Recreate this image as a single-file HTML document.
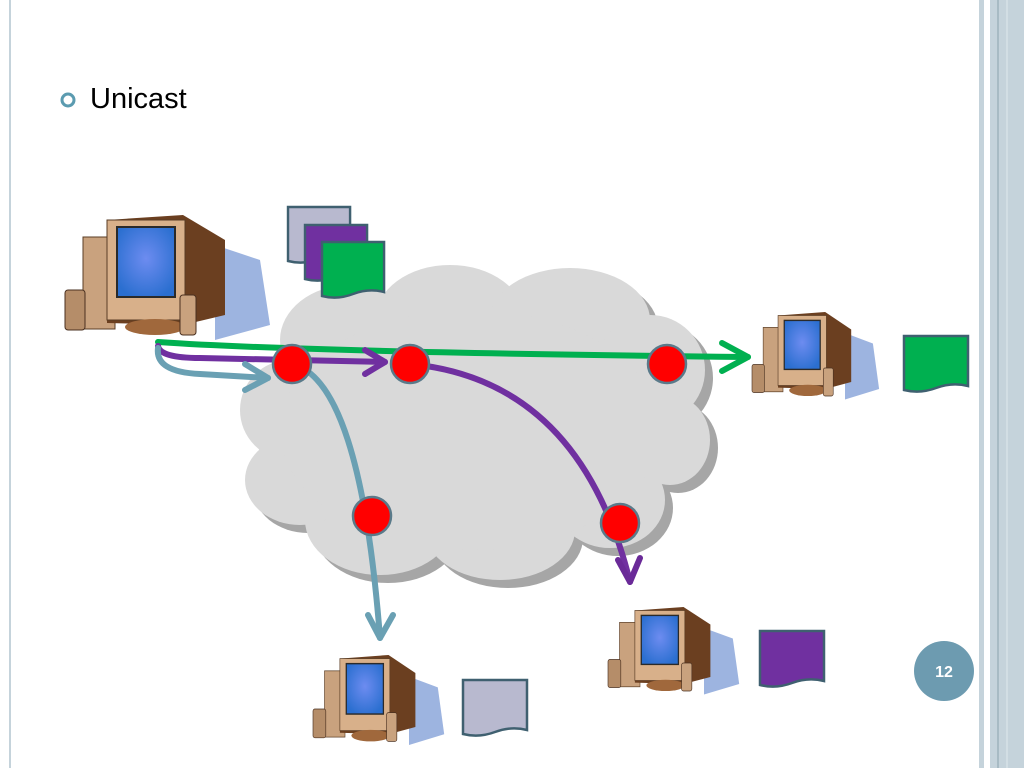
<!DOCTYPE html>
<html><head><style>
body{margin:0;width:1024px;height:768px;background:#fff;overflow:hidden;font-family:"Liberation Sans",sans-serif}
</style></head><body>
<svg width="1024" height="768" viewBox="0 0 1024 768" xmlns="http://www.w3.org/2000/svg">
<defs>
<radialGradient id="scr" cx="0.5" cy="0.45" r="0.6"><stop offset="0" stop-color="#6d8cf0"/><stop offset="1" stop-color="#2b6fd0"/></radialGradient>
<g id="pc">
  <path d="M150 30 L195 45 L205 110 L150 125 Z" fill="#9db4e0"/>
  <rect x="18" y="22" width="32" height="92" fill="#c9a27e" stroke="#5a3d25"/>
  <rect x="0" y="75" width="20" height="40" rx="3" fill="#b58d69" stroke="#4a3020"/>
  <path d="M42 5 L118 0 L160 25 L160 100 L118 110 L42 108 Z" fill="#6b3f20"/>
  <rect x="42" y="5" width="78" height="100" fill="#d8b08a" stroke="#5a3d25"/>
  <rect x="52" y="12" width="58" height="70" fill="url(#scr)" stroke="#2a2a2a" stroke-width="2"/>
  <ellipse cx="90" cy="112" rx="30" ry="8" fill="#a0683c"/>
  <rect x="115" y="80" width="16" height="40" rx="3" fill="#c9a27e" stroke="#4a3020"/>
</g>
<g id="doc">
  <path d="M0 0 H64 V50 Q48 46 32 52 Q16 58 0 54 Z" stroke="#3f6070" stroke-width="2.5"/>
</g>
</defs>
<line x1="10" y1="0" x2="10" y2="768" stroke="#c5d3db" stroke-width="2"/>
<rect x="979" y="0" width="5" height="768" fill="#c5d3db"/>
<rect x="990" y="0" width="34" height="768" fill="#c5d3db"/>
<line x1="998" y1="0" x2="998" y2="768" stroke="#8aa3ae" stroke-width="1"/>
<line x1="1007" y1="0" x2="1007" y2="768" stroke="#dfe8ec" stroke-width="1"/>

<circle cx="68" cy="100" r="6" fill="none" stroke="#5b9bb0" stroke-width="3"/>
<text x="90" y="108" font-size="29" fill="#000">Unicast</text>

<g fill="#a6a6a6" transform="translate(8,8)">
  <ellipse cx="350" cy="340" rx="70" ry="55"/><ellipse cx="450" cy="320" rx="75" ry="55"/><ellipse cx="570" cy="320" rx="80" ry="52"/>
  <ellipse cx="650" cy="370" rx="55" ry="55"/><ellipse cx="670" cy="440" rx="40" ry="45"/><ellipse cx="610" cy="500" rx="55" ry="48"/>
  <ellipse cx="500" cy="530" rx="75" ry="50"/><ellipse cx="380" cy="520" rx="75" ry="55"/><ellipse cx="300" cy="480" rx="55" ry="45"/>
  <ellipse cx="290" cy="410" rx="50" ry="50"/><ellipse cx="470" cy="430" rx="190" ry="120"/>
</g>
<g fill="#d9d9d9">
  <ellipse cx="350" cy="340" rx="70" ry="55"/><ellipse cx="450" cy="320" rx="75" ry="55"/><ellipse cx="570" cy="320" rx="80" ry="52"/>
  <ellipse cx="650" cy="370" rx="55" ry="55"/><ellipse cx="670" cy="440" rx="40" ry="45"/><ellipse cx="610" cy="500" rx="55" ry="48"/>
  <ellipse cx="500" cy="530" rx="75" ry="50"/><ellipse cx="380" cy="520" rx="75" ry="55"/><ellipse cx="300" cy="480" rx="55" ry="45"/>
  <ellipse cx="290" cy="410" rx="50" ry="50"/><ellipse cx="470" cy="430" rx="190" ry="120"/>
</g>

<use href="#pc" transform="translate(65,215)"/>
<use href="#pc" transform="translate(752,312) scale(0.62,0.7)"/>
<use href="#pc" transform="translate(313,655) scale(0.64,0.72)"/>
<use href="#pc" transform="translate(608,607) scale(0.64,0.7)"/>

<use href="#doc" transform="translate(288,207) scale(0.97,1)" fill="#b8b9cf"/>
<use href="#doc" transform="translate(305,225) scale(0.97,1)" fill="#7030a0"/>
<use href="#doc" transform="translate(322,242) scale(0.97,1)" fill="#00b050"/>
<use href="#doc" transform="translate(904,336) scale(1,1)" fill="#00b050"/>
<use href="#doc" transform="translate(760,631) scale(1,1)" fill="#7030a0"/>
<use href="#doc" transform="translate(463,680) scale(1,1)" fill="#b8b9cf"/>

<g fill="none" stroke-width="6" stroke-linecap="round" stroke-linejoin="round">
  <path d="M158 342 Q300 352 748 357" stroke="#00b050"/>
  <path d="M722 343 L748 357 L722 371" stroke="#00b050"/>
  <path d="M158 346 Q160 358 200 358 L385 362" stroke="#7030a0"/>
  <path d="M365 350 L385 362 L365 374" stroke="#7030a0"/>
  <path d="M410 364 Q580 380 630 582" stroke="#7030a0"/>
  <path d="M618 560 L630 582 L640 558" stroke="#6a2a98"/>
  <path d="M158 348 Q155 372 200 374 L268 378" stroke="#6aa0b3"/>
  <path d="M245 364 L268 378 L245 390" stroke="#6aa0b3"/>
  <path d="M292 364 Q360 380 380 638" stroke="#6aa0b3"/>
  <path d="M368 615 L380 638 L393 615" stroke="#6aa0b3"/>
</g>
<g fill="#ff0000" stroke="#5a7a8a" stroke-width="2.5">
  <circle cx="292" cy="364" r="19"/><circle cx="410" cy="364" r="19"/><circle cx="667" cy="364" r="19"/>
  <circle cx="372" cy="516" r="19"/><circle cx="620" cy="523" r="19"/>
</g>

<circle cx="944" cy="671" r="30" fill="#6d9bb0"/>
<text x="944" y="677" font-size="16" font-weight="bold" fill="#fff" text-anchor="middle">12</text>
</svg>
</body></html>
